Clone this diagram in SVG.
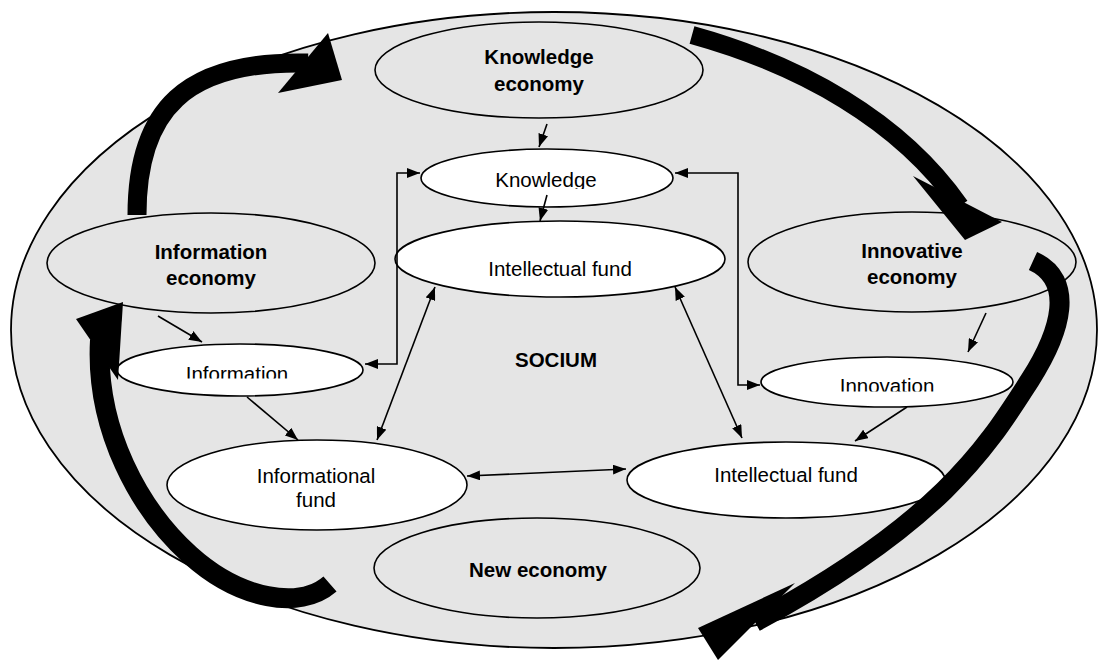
<svg xmlns="http://www.w3.org/2000/svg" width="1099" height="662" viewBox="0 0 1099 662">
<style>
.socium{fill:#e5e5e5;stroke:#000;stroke-width:1.8}
.eco{fill:#e5e5e5;stroke:#000;stroke-width:1.6}
.node{fill:#fff;stroke:#000;stroke-width:1.6}
.b{font-family:"Liberation Sans",Arial,sans-serif;font-size:20.5px;font-weight:bold;text-anchor:middle;fill:#000}
.r{font-family:"Liberation Sans",Arial,sans-serif;font-size:20.5px;text-anchor:middle;fill:#000}
.conn{fill:none;stroke:#000;stroke-width:1.6}
.band{fill:none;stroke:#000;stroke-linecap:butt}
.head{fill:#000}
</style>
<defs>
<marker id="ah" viewBox="0 0 13 10" refX="13" refY="5" markerWidth="13" markerHeight="10" markerUnits="userSpaceOnUse" orient="auto-start-reverse">
<path d="M0,0 L13,5 L0,10 z" fill="#000"/>
</marker>
<clipPath id="clipK"><rect x="400" y="150" width="300" height="39"/></clipPath>
<clipPath id="clipI"><rect x="110" y="345" width="260" height="33.5"/></clipPath>
<clipPath id="clipN"><rect x="760" y="358" width="260" height="33.5"/></clipPath>
</defs>

<g id="socium">
<ellipse class="socium" cx="554" cy="330" rx="543" ry="318"/>
<text class="b" x="556" y="367">SOCIUM</text>
</g>

<g id="knowledge-economy">
<ellipse class="eco" cx="539" cy="70" rx="164" ry="48"/>
<text class="b" x="539" y="64">Knowledge</text>
<text class="b" x="539" y="91">economy</text>
</g>

<g id="information-economy">
<ellipse class="eco" cx="211" cy="263" rx="164" ry="50"/>
<text class="b" x="211" y="259">Information</text>
<text class="b" x="211" y="285">economy</text>
</g>

<g id="innovative-economy">
<ellipse class="eco" cx="912" cy="262" rx="164" ry="50"/>
<text class="b" x="912" y="258">Innovative</text>
<text class="b" x="912" y="284">economy</text>
</g>

<g id="new-economy">
<ellipse class="eco" cx="537" cy="568" rx="163" ry="50"/>
<text class="b" x="538" y="577">New economy</text>
</g>

<g id="knowledge">
<ellipse class="node" cx="547" cy="178" rx="126" ry="29"/>
<text class="r" x="546" y="187" clip-path="url(#clipK)">Knowledge</text>
</g>

<g id="intellectual-fund-top">
<ellipse class="node" cx="560" cy="259" rx="165" ry="38"/>
<text class="r" x="560" y="276">Intellectual fund</text>
</g>

<g id="information">
<ellipse class="node" cx="240" cy="370" rx="123" ry="26"/>
<text class="r" x="237" y="381" clip-path="url(#clipI)">Information</text>
</g>

<g id="innovation">
<ellipse class="node" cx="887" cy="382" rx="126" ry="25"/>
<text class="r" x="887" y="393" clip-path="url(#clipN)">Innovation</text>
</g>

<g id="informational-fund">
<ellipse class="node" cx="317" cy="485" rx="150" ry="45"/>
<text class="r" x="316" y="483">Informational</text>
<text class="r" x="316" y="507">fund</text>
</g>

<g id="intellectual-fund-bottom">
<ellipse class="node" cx="786" cy="480" rx="159" ry="38"/>
<text class="r" x="786" y="482">Intellectual fund</text>
</g>

<g id="connectors">
<line class="conn" x1="547" y1="124" x2="539" y2="147" marker-end="url(#ah)"/>
<line class="conn" x1="547" y1="195" x2="540" y2="221" marker-end="url(#ah)"/>
<polyline class="conn" points="365,364 397,364 397,173 420,173" marker-start="url(#ah)" marker-end="url(#ah)"/>
<polyline class="conn" points="675,173 738,173 738,385 760,385" marker-start="url(#ah)" marker-end="url(#ah)"/>
<line class="conn" x1="435" y1="287" x2="377" y2="440" marker-start="url(#ah)" marker-end="url(#ah)"/>
<line class="conn" x1="675" y1="287" x2="742" y2="438" marker-start="url(#ah)" marker-end="url(#ah)"/>
<line class="conn" x1="158" y1="316" x2="202" y2="342" marker-end="url(#ah)"/>
<line class="conn" x1="247" y1="397" x2="298" y2="440" marker-end="url(#ah)"/>
<line class="conn" x1="467" y1="476" x2="626" y2="469" marker-start="url(#ah)" marker-end="url(#ah)"/>
<line class="conn" x1="986" y1="313" x2="968" y2="352" marker-end="url(#ah)"/>
<line class="conn" x1="907" y1="407" x2="855" y2="441" marker-end="url(#ah)"/>

<path class="band" stroke-width="19" d="M137,215 C137,110 185,60 308,63"/>
<polygon class="head" points="328,33 342,80 278,93"/>

<path class="band" stroke-width="18" d="M692,35 C800,65 900,120 960,206"/>
<polygon class="head" points="913,176 965,240 1002,222"/>

<path class="band" stroke-width="20" d="M1033,261 C1075,280 1062,330 1030,380 C990,442 945,520 755,622"/>
<polygon class="head" points="795,583 698,628 718,660"/>

<path class="band" stroke-width="20" d="M330,584 C300,610 240,600 190,555 C140,510 95,430 100,340"/>
<polygon class="head" points="76,319 123,302 118,380"/>
</g>
</svg>
